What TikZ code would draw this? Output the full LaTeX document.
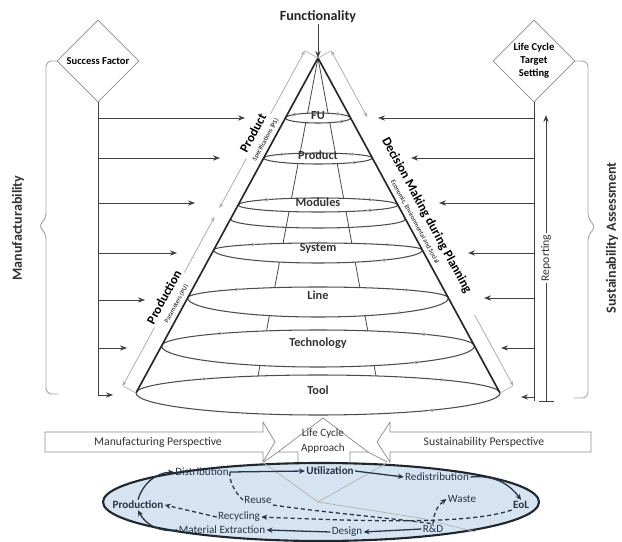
\documentclass[tikz,border=0pt]{standalone}
\usepackage{fontspec}
\setmainfont{Carlito}
\usetikzlibrary{arrows.meta,positioning,shapes.geometric,decorations.markings}

\definecolor{lcfill}{RGB}{214,227,240}
\definecolor{lcedge}{RGB}{32,38,46}
\definecolor{lctext}{RGB}{38,52,70}
\newcommand{\dimsub}{\mdseries\fontsize{5.5}{6}\selectfont}

\begin{document}
\begin{tikzpicture}[x=0.03cm,y=-0.03cm,>={Stealth[length=6pt,width=4.5pt]},inner sep=1pt]
      % Styles
      \tikzset{feed/.style={black!75,line width=0.8pt},
               dia/.style={draw=black!45,line width=0.6pt,diamond,minimum size=2.46cm,inner sep=0pt,align=center,font=\bfseries\fontsize{9}{11}\selectfont},
               brace/.style={black!35,line width=0.8pt,rounded corners=5pt},
               side/.style={font=\bfseries\fontsize{12}{14}\selectfont,text=black!80},
               title/.style={font=\bfseries\fontsize{12}{14}\selectfont,text=black!85},
               ring/.style={black!70,line width=0.9pt},
               ringtip/.style={postaction={decorate,decoration={markings,
                 mark=at position 0.1 with {\arrow[black!40]{Stealth[length=3.5pt,width=3pt]}},
                 mark=at position 0.42 with {\arrow[black!40]{Stealth[length=3.5pt,width=3pt]}},
                 mark=at position 0.6 with {\arrow[black!40]{Stealth[length=3.5pt,width=3pt]}}}}},
               cone/.style={black!85,line width=1.4pt},
               lvl/.style={font=\bfseries\fontsize{10.5}{12}\selectfont,text=black!80},
               dim/.style={black!35,line width=0.6pt,>={Stealth[length=4pt,width=3pt]}},
               dimlbl/.style={fill=white,align=center,inner sep=1.5pt,font=\bfseries\fontsize{11}{11}\selectfont},
               rep/.style={font=\fontsize{10}{12}\selectfont,text=black!80},
               band/.style={draw=black!45,fill=white,line width=0.6pt},
               bandlbl/.style={font=\fontsize{10}{12}\selectfont,text=black!80},
               lc/.style={font=\fontsize{9.5}{11}\selectfont,text=lctext,inner sep=1pt},
               lcb/.style={lc,font=\bfseries\fontsize{9.5}{11}\selectfont},
               lcflow/.style={lctext,line width=1.1pt,>={Stealth[length=5pt,width=4.5pt]},->},
               lcdash/.style={lcflow,dash pattern=on 3.5pt off 2.5pt},
               persp/.style={black!30,line width=0.6pt}}

      \useasboundingbox (0,0) rectangle (622,542);

      % apex, base and functionality
      \coordinate (apex) at (318,58);
      \coordinate (bl) at (136,393);
      \coordinate (br) at (500,393);
      \node[title] (fun) at (318,17) {Functionality};
      \draw[feed,->] (fun) -- (apex);

      % inner meridians (hidden inside the rings)
      \draw[ring,line width=0.7pt] (apex) -- (258,376);
      \draw[ring,line width=0.7pt] (apex) -- (376,376);

      % rings of the cone
      \foreach \lvl/\yy/\ht/\hb in {FU/118/5/5,Product/158/5/6,Modules/205/7/7,System/250/7/13,Line/298/11/19,Technology/346/16/21,Tool/393/18/22}{%
        \pgfmathsetmacro{\hw}{(\yy-58)*0.5433}
        \filldraw[ring,fill=white,ringtip] ({318-\hw},\yy) arc[start angle=180,end angle=360,x radius=\hw,y radius=\ht]
          arc[start angle=0,end angle=180,x radius=\hw,y radius=\hb];
        \node[lvl] (r\lvl) at (318,\yy+2) {\lvl};
      }
      \draw[ring] (230.5,219) arc[start angle=180,end angle=0,x radius=87.5,y radius=9];

      % cone edges
      \draw[cone] (bl) -- (apex) -- (br);

      % dimension lines along the cone
      \coordinate (L0) at (304.8,50.8);
      \coordinate (L1) at (122.8,385.8);
      \coordinate (Lm1) at (219.4,208);
      \coordinate (Lm2) at (214.5,217);
      \coordinate (R0) at (331.2,50.8);
      \coordinate (R1) at (513.2,385.8);
      \coordinate (Rm1) at (367.1,117);
      \coordinate (Rm2) at (474.6,315);
      \draw[persp] (apex) -- (L0) (bl) -- (L1) (apex) -- (R0) (br) -- (R1);
      \draw[dim,<->] (L0) -- (Lm1);
      \draw[dim,<->] (Lm2) -- (L1);
      \draw[dim,<->] (R0) -- (Rm1);
      \draw[dim,->] (Rm2) -- (R1);
      \node[dimlbl,rotate=61.5] (ps) at (258.5,136) {Product\\[-1pt]{\dimsub Specifications (PS)}};
      \node[dimlbl,rotate=61.5] (pp) at (169.4,300) {Production\\[-1pt]{\dimsub Parameters (PU)}};
      \node[dimlbl,rotate=-61.5] (dm) at (422,218) {Decision Making during Planning\\[-1pt]{\dimsub Economic, Environmental and Social}};

      % left side: success factor
      \node[dia] (sf) at (98,61) {Success Factor};
      \draw[feed,->] (sf.south) |- (113,395);
      \foreach \yy/\xx in {118/245,158/220,203/195,253/177,300/145,348/127}
        \draw[feed,->] (98,\yy) -- (\xx,\yy);
      \draw[brace] (sf.west) -- (46,61) -- (46,219) -- (38,226) -- (46,233) -- (46,394) -- (58,394);
      \node[side,rotate=90] (manu) at (18,228) {Manufacturability};

      % right side: life cycle target setting
      \node[dia] (ltt) at (534,61) {Life Cycle\\Target\\Setting};
      \draw[feed] (ltt.south) -- (534,401);
      \foreach \yy/\xx in {118/378,158/411,203/439,253/468,298/484,348/501,397/521}
        \draw[feed,->] (534,\yy) -- (\xx,\yy);
      \node[rep,rotate=90] (rpt) at (546,258) {Reporting};
      \draw[feed,->] (rpt.east) -- (546,115);
      \draw[feed] (rpt.west) -- (546,401);
      \draw[feed] (539,401) -- (554,401);
      \draw[brace] (ltt.east) -- (588,61) -- (588,219) -- (596,227) -- (588,235) -- (588,398) -- (574,398);
      \node[side,rotate=90] (sust) at (612,238) {Sustainability Assessment};

      % perspectives band
      \draw[band] (45,432) -- (263,432) -- (263,422) -- (275,442) -- (263,462) -- (263,452) -- (45,452) -- cycle;
      \node[bandlbl] (mp) at (158,442) {Manufacturing Perspective};
      \draw[band] (591,432) -- (390,432) -- (390,422) -- (377,442) -- (390,462) -- (390,452) -- (591,452) -- cycle;
      \node[bandlbl] (sp) at (484,442) {Sustainability Perspective};
      \draw[band] (298,463) -- (298,452) -- (278,452) -- (323,418) -- (368,452) -- (350,452) -- (350,463);
      \draw[band] (278,452) -- (264,462) (368,452) -- (387,462);
      \node[bandlbl,align=center,font=\fontsize{9.5}{13}\selectfont] (lca) at (323,441) {Life Cycle\\Approach};

      % life cycle
      \draw[fill=lcfill,draw=lcedge,line width=1.8pt] (321,502) ellipse [x radius=218,y radius=39];
      \draw[persp] (264,463) -- (318,502) -- (420,518) -- (476,532);
      \draw[persp] (387,463) -- (318,502);

      \node[lcb] (prod) at (138,505) {Production};
      \node[lc] (dist) at (202,472) {Distribution};
      \node[lcb] (util) at (330,471) {Utilization};
      \node[lc] (redis) at (437,477) {Redistribution};
      \node[lcb] (eol) at (521,505) {EoL};
      \node[lc] (waste) at (462,499) {Waste};
      \node[lc] (reuse) at (258,500) {Reuse};
      \node[lc] (recyc) at (239,517) {Recycling};
      \node[lc] (matex) at (222,530) {Material Extraction};
      \node[lc] (design) at (347,532) {Design};
      \node[lc] (rd) at (433,529) {R\&D};

      \draw[lcflow] (prod.north) to[bend left=35] (dist.west);
      \draw[lcflow] (dist.east) -- (util.west);
      \draw[lcflow] (util.east) -- (redis.west);
      \draw[lcflow] (redis.east) to[bend left=30] (eol.north);
      \draw[lcflow] (rd.west) -- (design.east);
      \draw[lcflow] (design.west) -- (matex.east);
      \draw[lcflow] (matex.west) to[bend left=35] (prod.south);
      \draw[lcdash] (recyc.west) -- (prod.east);
      \draw[lcdash] (eol.south west) .. controls (470,524) and (380,522) .. (recyc.east);
      \draw[lcdash,-] (dist.east) .. controls (228,480) and (236,494) .. (reuse.west);
      \draw[lcdash,-] (reuse.south east) .. controls (320,512) and (390,518) .. (rd.north);
      \draw[lcdash] (rd.north) to[bend left=25] (waste.west);
\end{tikzpicture}
\end{document}
